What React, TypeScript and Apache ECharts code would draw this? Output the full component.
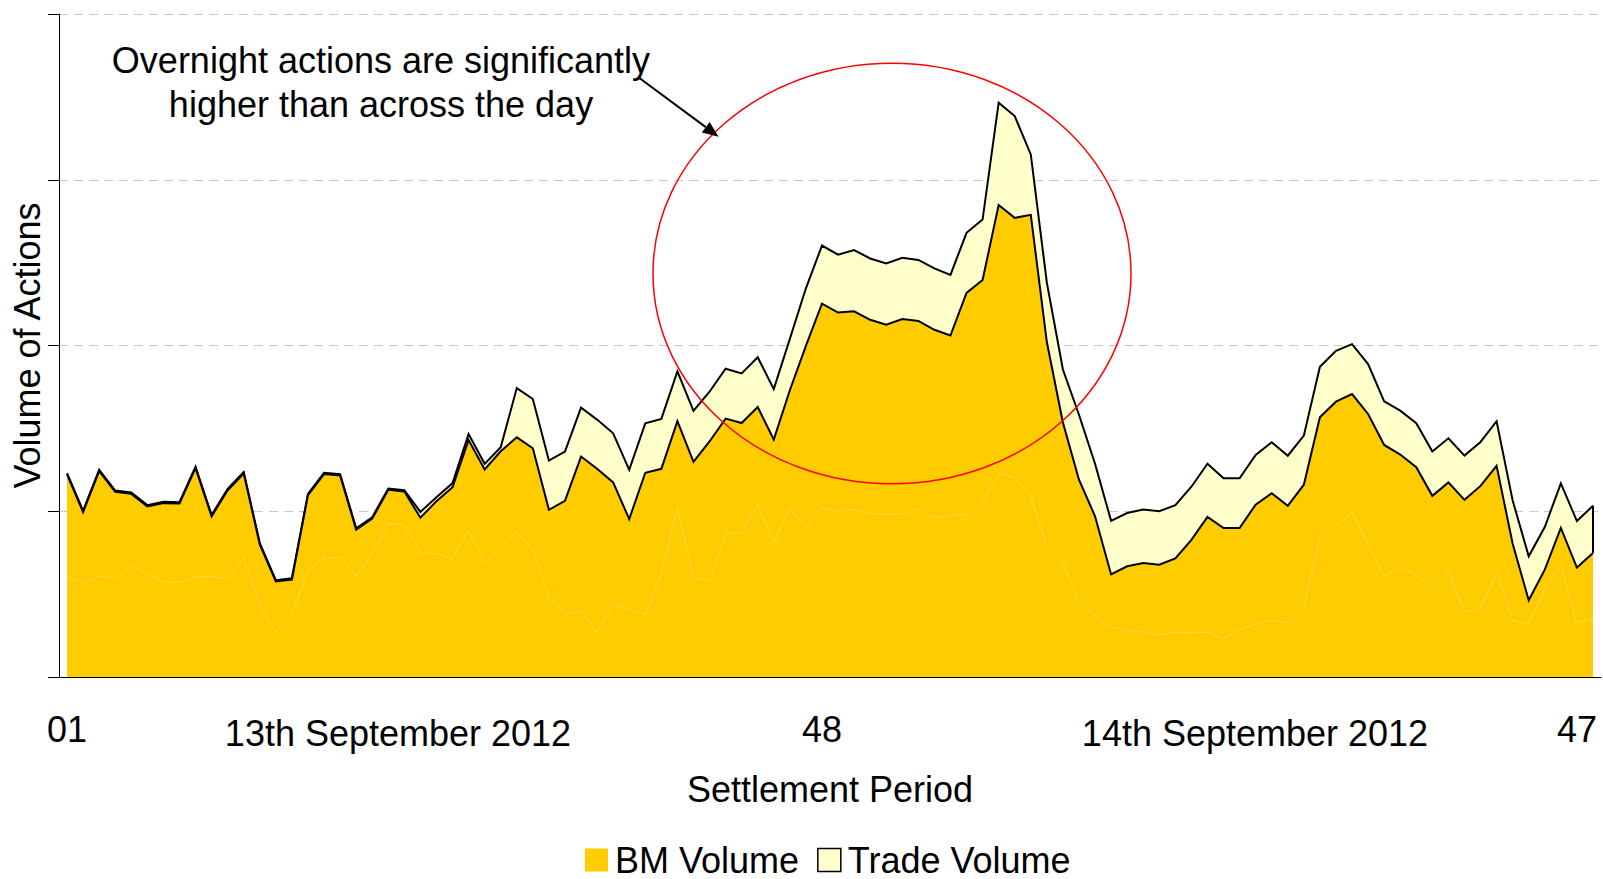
import React, { useEffect, useRef } from "react";
import * as echarts from "echarts";

// ---------- data ----------
const day1Periods = Array.from({ length: 48 }, (_, i) => String(i + 1).padStart(2, "0"));
const day2Periods = Array.from({ length: 48 }, (_, i) => String(i + 1).padStart(2, "0"));
const categories = [...day1Periods, ...day2Periods];

const dateLabels = ["13th September 2012", "14th September 2012"];

const bmVolume = [
  122.2, 99.5, 124.2, 111.7, 110.5, 102.9, 104.9, 104.7, 126.0, 96.9,
  112.7, 122.8, 80.0, 57.6, 58.8, 109.7, 122.4, 121.6, 88.9, 95.6,
  112.9, 111.9, 96.1, 106.1, 114.5, 143.0, 125.2, 136.2, 144.6, 138.0,
  100.9, 106.3, 133.0, 125.6, 117.4, 95.3, 123.2, 125.6, 154.3, 129.8,
  142.1, 155.9, 153.2, 162.9, 143.2, 173.0, 199.8, 225.2, 219.9, 220.6,
  215.5, 212.5, 216.0, 214.8, 209.5, 206.0, 231.7, 239.5, 284.8, 277.0,
  278.8, 202.1, 153.6, 119.0, 97.0, 61.9, 66.8, 68.8, 67.7, 71.6,
  82.7, 96.6, 89.9, 89.9, 104.0, 110.9, 103.3, 116.0, 156.7, 166.1,
  170.7, 158.7, 140.0, 134.2, 126.6, 109.3, 117.4, 106.9, 115.3, 127.4,
  80.4, 46.3, 64.8, 89.9, 66.0, 74.8,
];

const tradeVolume = [
  0.8, 0.8, 0.8, 0.8, 0.8, 0.8, 0.8, 0.8, 0.8, 0.8,
  0.8, 0.8, 0.8, 0.8, 0.8, 0.8, 0.8, 0.8, 0.8, 0.8,
  0.8, 0.8, 3.5, 2.4, 2.5, 3.6, 3.4, 2.4, 29.7, 29.7,
  29.7, 29.7, 29.5, 29.7, 29.6, 29.7, 29.8, 30.1, 30.1, 30.8,
  30.0, 30.1, 30.0, 30.0, 30.5, 31.0, 34.7, 35.1, 34.9, 37.0,
  37.0, 37.0, 36.9, 36.8, 37.0, 36.6, 36.3, 36.5, 61.7, 61.4,
  36.5, 35.8, 31.9, 39.2, 31.7, 32.3, 32.1, 32.2, 32.3, 32.1,
  32.1, 32.1, 30.0, 30.0, 30.0, 30.7, 30.2, 29.6, 30.5, 30.7,
  30.1, 30.1, 26.3, 26.5, 26.5, 26.7, 26.6, 26.7, 26.5, 26.9,
  26.1, 26.5, 25.7, 26.9, 28.1, 28.5,
];

// faint lighter outline visible inside the BM area
const innerLine = [
  60.4, 56.4, 61.2, 59.4, 67.8, 61.8, 57.4, 57.0, 60.4, 60.6,
  59.2, 72.0, 43.3, 27.3, 37.7, 64.0, 71.8, 72.4, 60.8, 74.4,
  92.5, 91.7, 75.0, 74.4, 71.4, 88.5, 68.8, 79.4, 87.7, 76.8,
  47.7, 37.7, 39.7, 26.9, 43.7, 41.3, 37.5, 62.4, 101.9, 60.2,
  57.8, 87.1, 86.6, 104.2, 80.9, 102.1, 89.6, 102.3, 100.0, 101.2,
  98.9, 98.2, 98.6, 101.4, 95.9, 97.7, 97.7, 105.1, 123.1, 120.1,
  109.0, 79.0, 69.3, 45.0, 37.0, 30.0, 28.2, 27.0, 25.4, 27.3,
  26.6, 27.0, 23.1, 28.4, 31.9, 34.2, 32.6, 42.7, 84.0, 91.5,
  99.1, 79.4, 60.4, 66.8, 61.4, 54.0, 63.4, 39.3, 41.3, 63.4,
  33.9, 31.9, 53.4, 67.4, 32.7, 35.3,
];

const yTicks = [0, 100, 200, 300, 400];

const FONT = "'Liberation Sans', Arial, sans-serif";

export default function App() {
  const ref = useRef<HTMLDivElement>(null);

  useEffect(() => {
    document.body.style.margin = "0";
    if (!ref.current) return;
    const chart = echarts.init(ref.current, undefined, { renderer: "svg" });

    const last = bmVolume.length - 1;
    const lastTotal = bmVolume[last] + tradeVolume[last];

    // arrow geometry
    const ax0 = 638, ay0 = 77, ax1 = 718.6, ay1 = 136.7;
    const dx = ax1 - ax0, dy = ay1 - ay0;
    const len = Math.sqrt(dx * dx + dy * dy);
    const ux = dx / len, uy = dy / len;
    const headLen = 16, headHalf = 6.5;
    const bx = ax1 - ux * headLen, by = ay1 - uy * headLen;

    const option: any = {
      animation: false,
      textStyle: { fontFamily: FONT },
      grid: { left: 59, right: 2, top: 14, bottom: 202, containLabel: false },
      legend: {
        left: 585,
        top: 842,
        padding: 0,
        itemWidth: 23,
        itemHeight: 23,
        itemGap: 18,
        textStyle: {
          fontSize: 36,
          lineHeight: 36,
          color: "#000",
          fontFamily: FONT,
          padding: [0, 0, 0, 2],
        },
        data: [
          { name: "BM Volume", icon: "rect", itemStyle: { color: "#FFCC00", borderWidth: 0 } },
          {
            name: "Trade Volume",
            icon: "rect",
            itemStyle: { color: "#FFFFCC", borderColor: "#000", borderWidth: 1.5 },
          },
        ],
      },
      xAxis: {
        type: "category",
        data: categories,
        boundaryGap: true,
        name: "Settlement Period",
        nameLocation: "middle",
        nameGap: 94,
        nameTextStyle: { fontSize: 36, color: "#000", fontFamily: FONT },
        axisLine: { show: true, lineStyle: { color: "#000", width: 1 } },
        axisTick: { show: false },
        axisLabel: {
          interval: 46,
          fontSize: 36,
          color: "#000",
          margin: 34,
          fontFamily: FONT,
        },
        splitLine: { show: false },
      },
      yAxis: {
        type: "value",
        min: yTicks[0],
        max: yTicks[yTicks.length - 1],
        interval: 100,
        name: "Volume of Actions",
        nameLocation: "middle",
        nameRotate: 90,
        nameGap: 14,
        nameTextStyle: { fontSize: 36, color: "#000", fontFamily: FONT },
        axisLine: { show: true, lineStyle: { color: "#000", width: 1 } },
        axisTick: { show: true, length: 11, lineStyle: { color: "#000", width: 1 } },
        axisLabel: { show: false },
        splitLine: { show: true, lineStyle: { color: "#C8C8C8", width: 1, type: [9, 6] } },
      },
      series: [],
      graphic: [],
    };

    option.series = [
      {
        name: "BM Volume",
        type: "line",
        stack: "total",
        data: bmVolume,
        showSymbol: false,
        symbol: "none",
        z: 3,
        lineStyle: { color: "#000", width: 2, join: "miter" },
        itemStyle: { color: "#FFCC00" },
        areaStyle: { color: "#FFCC00", opacity: 1 },
      },
      {
        name: "Trade Volume",
        type: "line",
        stack: "total",
        data: tradeVolume,
        showSymbol: false,
        symbol: "none",
        z: 2,
        lineStyle: { color: "#000", width: 2, join: "miter" },
        itemStyle: { color: "#FFFFCC" },
        areaStyle: { color: "#FFFFCC", opacity: 1 },
      },
      {
        name: "inner",
        type: "line",
        data: innerLine,
        showSymbol: false,
        symbol: "none",
        z: 4,
        silent: true,
        lineStyle: { color: "#FFD940", width: 1 },
        markLine: {
          silent: true,
          symbol: "none",
          label: { show: false },
          lineStyle: { color: "#000", width: 2, type: "solid" },
          data: [[{ coord: [last, lastTotal] }, { coord: [last, bmVolume[last]] }]],
        },
      },
    ];

    option.graphic = [
      {
        type: "text",
        z: 100,
        style: {
          text: "Overnight actions are significantly\nhigher than across the day",
          x: 381,
          y: 82,
          align: "center",
          verticalAlign: "middle",
          fontSize: 36,
          lineHeight: 44,
          fontFamily: FONT,
          fill: "#000",
        },
      },
      {
        type: "text",
        z: 100,
        style: {
          text: dateLabels[0],
          x: 398,
          y: 733,
          align: "center",
          verticalAlign: "middle",
          fontSize: 36,
          fontFamily: FONT,
          fill: "#000",
        },
      },
      {
        type: "text",
        z: 100,
        style: {
          text: dateLabels[1],
          x: 1255,
          y: 733,
          align: "center",
          verticalAlign: "middle",
          fontSize: 36,
          fontFamily: FONT,
          fill: "#000",
        },
      },
      {
        type: "ellipse",
        z: 100,
        shape: { cx: 892, cy: 273.5, rx: 239, ry: 210.3 },
        style: { fill: "none", stroke: "#FF0000", lineWidth: 1.5 },
      },
      {
        type: "line",
        z: 100,
        shape: { x1: ax0, y1: ay0, x2: bx, y2: by },
        style: { stroke: "#000", lineWidth: 2 },
      },
      {
        type: "polygon",
        z: 100,
        shape: {
          points: [
            [ax1, ay1],
            [bx - uy * headHalf, by + ux * headHalf],
            [bx + uy * headHalf, by - ux * headHalf],
          ],
        },
        style: { fill: "#000" },
      },
    ];

    chart.setOption(option);
    return () => chart.dispose();
  }, []);

  return <div ref={ref} style={{ width: 1603, height: 879 }} />;
}
